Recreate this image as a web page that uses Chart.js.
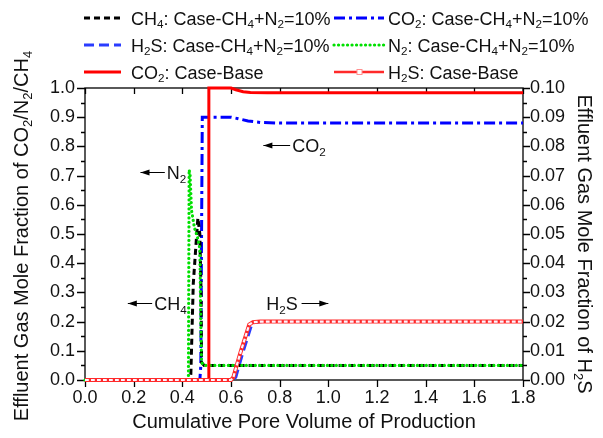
<!DOCTYPE html>
<html>
<head>
<meta charset="utf-8">
<script src="https://cdn.jsdelivr.net/npm/chart.js@4.4.1/dist/chart.umd.min.js"></script>
<style>
html,body{margin:0;padding:0;background:#fff;}
#wrap{width:603px;height:438px;position:relative;}
canvas{display:block;}
</style>
</head>
<body>
<div id="wrap"><canvas id="c" width="603" height="438"></canvas></div>
<script>
// ---------- DATA ----------
const xTickLabels = ['0.0','0.2','0.4','0.6','0.8','1.0','1.2','1.4','1.6','1.8'];
const yLeftTickLabels = ['0.0','0.1','0.2','0.3','0.4','0.5','0.6','0.7','0.8','0.9','1.0'];
const yRightTickLabels = ['0.00','0.01','0.02','0.03','0.04','0.05','0.06','0.07','0.08','0.09','0.10'];

const seriesLabels = [
  'CH₄: Case-CH₄+N₂=10%',
  'CO₂: Case-CH₄+N₂=10%',
  'H₂S: Case-CH₄+N₂=10%',
  'N₂: Case-CH₄+N₂=10%',
  'CO₂: Case-Base',
  'H₂S: Case-Base'
];

const ch4X = [0, 0.43, 0.435, 0.445, 0.46, 0.464, 0.472, 0.477, 0.479, 0.49, 1.8];
const ch4Y = [0, 0, 0.02, 0.33, 0.51, 0.555, 0.5, 0.3, 0.06, 0.05, 0.05];

const co2CaseX = [0, 0.472, 0.476, 0.479, 0.482, 0.6, 0.63, 0.67, 0.72, 0.8, 1.8];
const co2CaseY = [0, 0, 0.05, 0.5, 0.9, 0.9, 0.895, 0.887, 0.882, 0.88, 0.88];

const h2sCaseX = [0, 0.61, 0.62, 0.63, 0.65, 0.67, 0.685, 0.70, 0.73, 1.8];
const h2sCaseY = [0, 0, 0.001, 0.004, 0.0097, 0.015, 0.019, 0.0198, 0.02, 0.02];

const n2X = [0, 0.425, 0.428, 0.432, 0.438, 0.45, 0.462, 0.472, 0.476, 0.479, 0.49, 1.8];
const n2Y = [0, 0, 0.72, 0.7, 0.58, 0.52, 0.49, 0.45, 0.2, 0.06, 0.05, 0.05];

const co2BaseX = [0, 0.508, 0.509, 0.6, 0.62, 0.65, 0.68, 0.75, 1.8];
const co2BaseY = [0, 0, 1.0, 1.0, 0.994, 0.987, 0.985, 0.984, 0.984];

const h2sBaseX = [0, 0.6, 0.61, 0.62, 0.64, 0.66, 0.675, 0.69, 0.72, 1.8];
const h2sBaseY = [0, 0, 0.001, 0.004, 0.0097, 0.015, 0.019, 0.0198, 0.02, 0.02];

const xTitle = 'Cumulative Pore Volume of Production';
const yLeftTitle = 'Effluent Gas Mole Fraction of CO₂/N₂/CH₄';
const yRightTitle = 'Effluent Gas Mole Fraction of H₂S';

// annotation texts (labels with arrows)
const annTexts = ['N₂', 'CH₄', 'CO₂', 'H₂S'];

// ---------- STYLE / LAYOUT ----------
const FONT = '"Liberation Sans", Arial, sans-serif';
const TXT = '#111';
const annLayout = [
  {x0: 0.228, x1: 0.328, y: 0.714, dir: 'left',  axis: 'y'},
  {x0: 0.176, x1: 0.276, y: 0.262, dir: 'left',  axis: 'y'},
  {x0: 0.733, x1: 0.843, y: 0.805, dir: 'left',  axis: 'y'},
  {x0: 0.745, x1: 0.89, x2: 1.0, y: 0.0265, dir: 'right', axis: 'y2'}
];

const pts = (xs, ys) => xs.map((x, i) => ({x, y: ys[i]}));

const datasets = [
  {label: seriesLabels[0], data: pts(ch4X, ch4Y), borderColor: '#000', borderWidth: 3, borderDash: [6, 4], yAxisID: 'y', order: 3},
  {label: seriesLabels[1], data: pts(co2CaseX, co2CaseY), borderColor: '#0000ff', borderWidth: 3, borderDash: [11, 4, 3, 4], yAxisID: 'y', order: 4},
  {label: seriesLabels[2], data: pts(h2sCaseX, h2sCaseY), borderColor: '#2a3cff', borderWidth: 3, borderDash: [10, 5], yAxisID: 'y2', order: 5},
  {label: seriesLabels[3], data: pts(n2X, n2Y), borderColor: '#00e000', borderWidth: 3.2, borderDash: [0.1, 4.4], borderCapStyle: 'round', yAxisID: 'y', order: 2},
  {label: seriesLabels[4], data: pts(co2BaseX, co2BaseY), borderColor: '#ff0000', borderWidth: 3, yAxisID: 'y', order: 1},
  {label: seriesLabels[5], data: pts(h2sBaseX, h2sBaseY), borderColor: '#ff2a2a', borderWidth: 4, yAxisID: 'y2', order: 0}
];
datasets.forEach(d => { d.clip = false; d.pointRadius = 0; d.tension = 0; d.fill = false; });

// ---------- RICH TEXT (subscripts) ----------
const SUBS = {'₀':'0','₁':'1','₂':'2','₃':'3','₄':'4','₅':'5','₆':'6','₇':'7','₈':'8','₉':'9'};
function segs(str) {
  const out = [];
  for (const ch of str) {
    const sub = SUBS[ch] !== undefined;
    const c = sub ? SUBS[ch] : ch;
    const last = out[out.length - 1];
    if (last && last.sub === sub) last.t += c; else out.push({t: c, sub});
  }
  return out;
}
function richWidth(ctx, str, size) {
  let w = 0;
  for (const s of segs(str)) { ctx.font = (s.sub ? size * 0.65 : size) + 'px ' + FONT; w += ctx.measureText(s.t).width; }
  return w;
}
function drawRich(ctx, str, x, y, size, align) {
  const w = richWidth(ctx, str, size);
  let cx = align === 'center' ? x - w / 2 : (align === 'right' ? x - w : x);
  ctx.textAlign = 'left'; ctx.textBaseline = 'alphabetic'; ctx.fillStyle = TXT;
  for (const s of segs(str)) {
    const fs = s.sub ? size * 0.65 : size;
    ctx.font = fs + 'px ' + FONT;
    ctx.fillText(s.t, cx, s.sub ? y + size * 0.2 : y);
    cx += ctx.measureText(s.t).width;
  }
  return w;
}

// ---------- PLUGINS ----------
const framePlugin = {
  id: 'frame',
  beforeDatasetsDraw(chart) {
    const ctx = chart.ctx, a = chart.chartArea;
    ctx.save();
    ctx.strokeStyle = '#000'; ctx.lineWidth = 1.3; ctx.setLineDash([]);
    ctx.strokeRect(a.left, a.top, a.right - a.left, a.bottom - a.top);
    ctx.beginPath();
    const xs = chart.scales.x;
    xs.ticks.forEach(t => {
      const p = Math.round(xs.getPixelForValue(t.value)) + 0.5;
      ctx.moveTo(p, a.bottom); ctx.lineTo(p, a.bottom + 7);
      ctx.moveTo(p, a.top); ctx.lineTo(p, a.top + 6);
    });
    const ys = chart.scales.y;
    ys.ticks.forEach((t, i) => {
      const p = Math.round(ys.getPixelForValue(t.value)) + 0.5;
      ctx.moveTo(a.left, p); ctx.lineTo(a.left - 8, p);
      if (i < ys.ticks.length - 1) {
        const m = Math.round(ys.getPixelForValue((t.value + ys.ticks[i + 1].value) / 2)) + 0.5;
        ctx.moveTo(a.left, m); ctx.lineTo(a.left - 4, m);
      }
    });
    const y2 = chart.scales.y2;
    y2.ticks.forEach((t, i) => {
      const p = Math.round(y2.getPixelForValue(t.value)) + 0.5;
      ctx.moveTo(a.right, p); ctx.lineTo(a.right + 7, p);
      if (i < y2.ticks.length - 1) {
        const m = Math.round(y2.getPixelForValue((t.value + y2.ticks[i + 1].value) / 2)) + 0.5;
        ctx.moveTo(a.right, m); ctx.lineTo(a.right + 4, m);
      }
    });
    ctx.stroke();
    ctx.restore();
  }
};

const H2S_BASE_INDEX = 5;
const markerOverlay = {
  id: 'markerOverlay',
  afterDatasetDraw(chart, args) {
    if (args.index !== H2S_BASE_INDEX) return;
    const ctx = chart.ctx, p = args.meta.data;
    ctx.save();
    ctx.beginPath();
    p.forEach((pt, i) => i ? ctx.lineTo(pt.x, pt.y) : ctx.moveTo(pt.x, pt.y));
    ctx.strokeStyle = '#fbf6ff'; ctx.lineWidth = 2.2; ctx.setLineDash([3.8, 2.2]);
    ctx.stroke();
    ctx.restore();
  }
};

const legendLayout = {cols: [{line0: 84, line1: 121, text: 131}, {line0: 334, line1: 384, text: 388}], rows: [18, 45, 72], size: 18};
const legendPlugin = {
  id: 'customLegend',
  afterDraw(chart) {
    const ctx = chart.ctx;
    chart.data.datasets.forEach((ds, i) => {
      const col = legendLayout.cols[i % 2], cy = legendLayout.rows[Math.floor(i / 2)];
      ctx.save();
      ctx.strokeStyle = ds.borderColor; ctx.lineWidth = i === H2S_BASE_INDEX ? 2.5 : ds.borderWidth;
      ctx.setLineDash(ds.borderDash || []); ctx.lineCap = ds.borderCapStyle || 'butt';
      ctx.beginPath(); ctx.moveTo(col.line0, cy); ctx.lineTo(col.line1, cy); ctx.stroke();
      if (i === H2S_BASE_INDEX) {
        ctx.setLineDash([]); ctx.fillStyle = '#fff'; ctx.lineWidth = 1; ctx.strokeStyle = '#ff9090';
        const mx = Math.round((col.line0 + col.line1) / 2) + 0.5;
        ctx.fillRect(mx - 2.5, cy - 2.5, 5, 5); ctx.strokeRect(mx - 2.5, cy - 2.5, 5, 5);
      }
      ctx.restore();
      ctx.save();
      drawRich(ctx, ds.label, col.text, cy + 6.5, legendLayout.size, 'left');
      ctx.restore();
    });
  }
};

function arrow(ctx, x0, x1, y, dir) {
  ctx.beginPath(); ctx.moveTo(x0, y); ctx.lineTo(x1, y); ctx.stroke();
  const tip = dir === 'left' ? x0 : x1, s = dir === 'left' ? 1 : -1;
  ctx.beginPath(); ctx.moveTo(tip, y); ctx.lineTo(tip + s * 9, y - 3); ctx.lineTo(tip + s * 9, y + 3); ctx.closePath(); ctx.fill();
}
const annPlugin = {
  id: 'annotations',
  afterDatasetsDraw(chart) {
    const ctx = chart.ctx, xs = chart.scales.x;
    ctx.save();
    ctx.strokeStyle = '#000'; ctx.fillStyle = '#000'; ctx.lineWidth = 1; ctx.setLineDash([]);
    annLayout.forEach((a, i) => {
      const ys = chart.scales[a.axis];
      const py = Math.round(ys.getPixelForValue(a.y)) + 0.5;
      if (a.dir === 'left') {
        const p0 = xs.getPixelForValue(a.x0), p1 = xs.getPixelForValue(a.x1);
        ctx.fillStyle = '#000'; arrow(ctx, p0, p1, py, 'left');
        drawRich(ctx, annTexts[i], p1 + 2, py + 6.5, 18, 'left');
      } else {
        const pt = xs.getPixelForValue(a.x0), p1 = xs.getPixelForValue(a.x1), p2 = xs.getPixelForValue(a.x2);
        drawRich(ctx, annTexts[i], pt, py + 6.5, 18, 'left');
        ctx.fillStyle = '#000'; arrow(ctx, p1, p2, py, 'right');
      }
    });
    ctx.restore();
  }
};

const titlePlugin = {
  id: 'axisTitles',
  afterDraw(chart) {
    const ctx = chart.ctx, a = chart.chartArea;
    ctx.save();
    drawRich(ctx, xTitle, (a.left + a.right) / 2, 428, 20, 'center');
    ctx.restore();
    ctx.save();
    ctx.translate(28, 236); ctx.rotate(-Math.PI / 2);
    drawRich(ctx, yLeftTitle, 0, 0, 20, 'center');
    ctx.restore();
    ctx.save();
    ctx.translate(578, 244); ctx.rotate(Math.PI / 2);
    drawRich(ctx, yRightTitle, 0, 0, 20, 'center');
    ctx.restore();
  }
};

const labelFrom = (arr) => (v) => { const f = arr.find(l => Math.abs(parseFloat(l) - v) < 1e-6); return f === undefined ? '' : f; };
const tickFont = {family: FONT, size: 18};

new Chart(document.getElementById('c').getContext('2d'), {
  type: 'line',
  data: {datasets},
  options: {
    responsive: false, animation: false, devicePixelRatio: 1,
    layout: {padding: {top: 88, left: 0, right: 0, bottom: 0}},
    plugins: {legend: {display: false}, tooltip: {enabled: false}},
    scales: {
      x: {type: 'linear', min: 0, max: 1.8,
        ticks: {stepSize: 0.2, autoSkip: false, maxRotation: 0, font: tickFont, color: TXT, padding: 7, callback: labelFrom(xTickLabels)},
        grid: {display: false, drawTicks: false}, border: {display: false},
        afterFit(s) { s.height = 58; }},
      y: {type: 'linear', position: 'left', min: 0, max: 1,
        ticks: {stepSize: 0.1, font: tickFont, color: TXT, padding: 10, callback: labelFrom(yLeftTickLabels)},
        grid: {display: false, drawTicks: false}, border: {display: false},
        afterFit(s) { s.width = 85; }},
      y2: {type: 'linear', position: 'right', min: 0, max: 0.1,
        ticks: {stepSize: 0.01, font: tickFont, color: TXT, padding: 7, callback: labelFrom(yRightTickLabels)},
        grid: {display: false, drawTicks: false}, border: {display: false},
        afterFit(s) { s.width = 80; }}
    }
  },
  plugins: [framePlugin, markerOverlay, annPlugin, legendPlugin, titlePlugin]
});
</script>
</body>
</html>
